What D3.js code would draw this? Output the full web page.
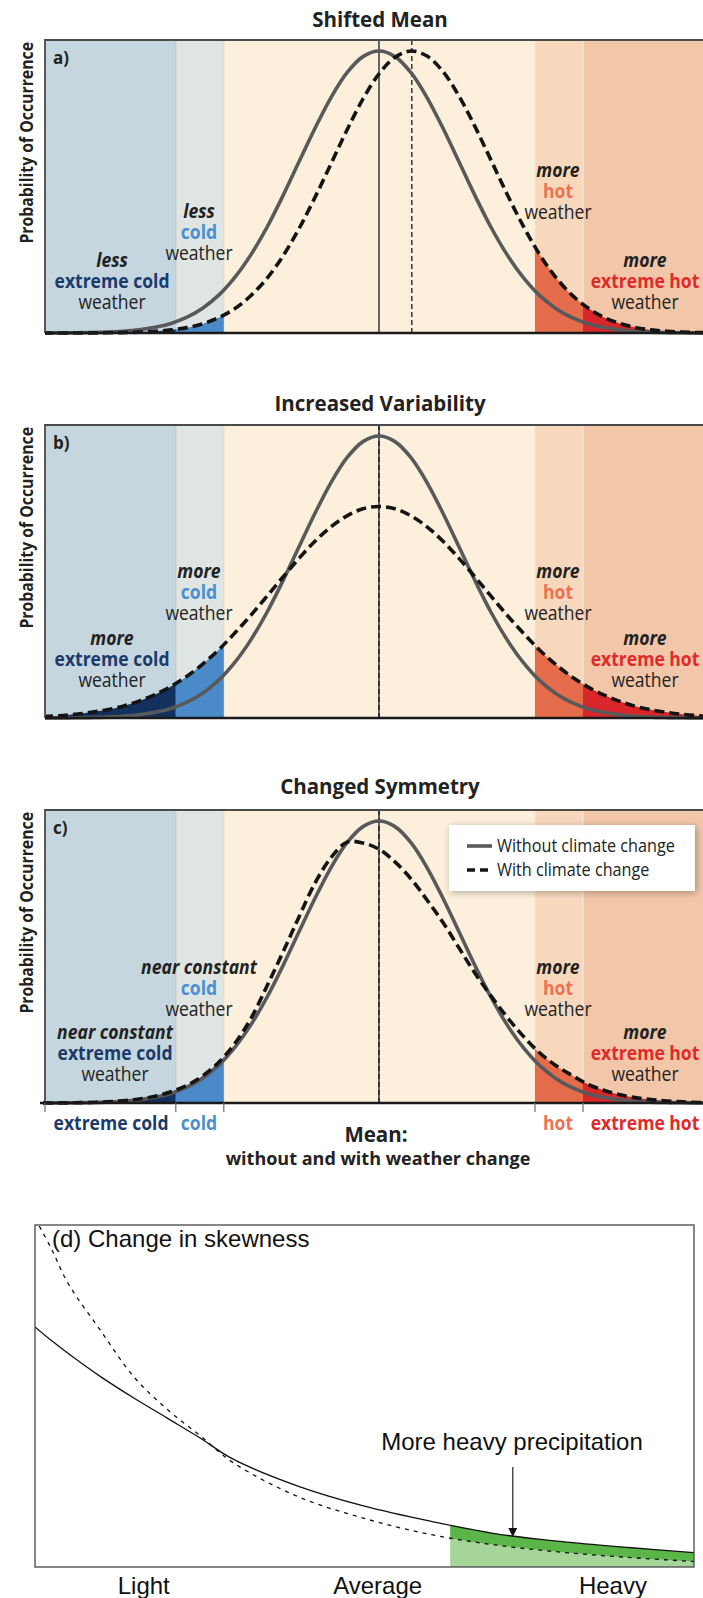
<!DOCTYPE html>
<html>
<head>
<meta charset="utf-8">
<title>Changes in the distribution of weather</title>
<script src="https://cdn.jsdelivr.net/npm/d3@7"></script>
<style>
  html, body { margin: 0; padding: 0; background: #fff; }
  svg { display: block; }
</style>
</head>
<body>
<svg id="fig" width="703" height="1598"></svg>
<script>
// ---------- temperature panels (a–c): distance from the present mean, in standard deviations ----------
const stdDev = [-4.2,-4.0,-3.8,-3.6,-3.4,-3.2,-3.0,-2.8,-2.6,-2.4,-2.2,-2.0,-1.8,-1.6,-1.4,-1.2,-1.0,-0.8,-0.6,-0.4,-0.2,
                0,0.2,0.4,0.6,0.8,1.0,1.2,1.4,1.6,1.8,2.0,2.2,2.4,2.6,2.8,3.0,3.2,3.4,3.6,3.8,4.0,4.2];

// probability of occurrence without climate change (same in every panel)
const withoutChange = [0.0001,0.0003,0.0007,0.0015,0.003,0.006,0.011,0.020,0.034,0.056,0.089,0.135,0.198,0.278,0.375,0.487,0.607,0.726,0.835,0.923,0.980,
                       1.000,0.980,0.923,0.835,0.726,0.607,0.487,0.375,0.278,0.198,0.135,0.089,0.056,0.034,0.020,0.011,0.006,0.003,0.0015,0.0007,0.0003,0.0001];

// probability of occurrence with climate change
const shiftedMean = [0.0000,0.0001,0.0001,0.0003,0.0007,0.0015,0.003,0.006,0.011,0.019,0.033,0.055,0.087,0.133,0.194,0.273,0.370,0.481,0.600,0.720,0.830,
                     0.919,0.978,1.000,0.982,0.927,0.840,0.732,0.613,0.493,0.381,0.282,0.201,0.138,0.091,0.057,0.035,0.020,0.011,0.006,0.003,0.0016,0.0008];
const increasedVariability = [0.005,0.008,0.013,0.020,0.029,0.042,0.060,0.083,0.112,0.148,0.192,0.243,0.302,0.365,0.432,0.500,0.566,0.627,0.678,0.717,0.742,
                              0.750,0.742,0.717,0.678,0.627,0.566,0.500,0.432,0.365,0.302,0.243,0.192,0.148,0.112,0.083,0.060,0.042,0.029,0.020,0.013,0.008,0.005];
const changedSymmetry = [0.0001,0.0004,0.0009,0.002,0.004,0.008,0.014,0.024,0.040,0.063,0.097,0.145,0.212,0.300,0.415,0.535,0.660,0.780,0.870,0.925,0.922,
                         0.900,0.855,0.795,0.720,0.640,0.550,0.460,0.380,0.305,0.238,0.180,0.135,0.100,0.068,0.046,0.030,0.019,0.012,0.007,0.004,0.002,0.001];

const panelLetters = ["a)", "b)", "c)"];
const panelTitles = ["Shifted Mean", "Increased Variability", "Changed Symmetry"];
const withChangeSeries = [shiftedMean, increasedVariability, changedSymmetry];
const meanWithout = [0, 0, 0];
const meanWith = [0.41, 0, 0];

const bandNames = ["extreme cold", "cold", "average", "hot", "extreme hot"];
const bandEdges = [-4.175, -2.54, -1.94, 1.95, 2.55, 4.05];
const qualifiers = [
  ["less", "less", "more", "more"],
  ["more", "more", "more", "more"],
  ["near constant", "near constant", "more", "more"]
];
const legendLabels = ["Without climate change", "With climate change"];
const axisTitle = ["Mean:", "without and with weather change"];
const yTitle = "Probability of Occurrence";

// ---------- precipitation panel (d) ----------
const precipIntensity = [0, 2.5, 5, 10, 15, 20, 25, 30, 40, 50, 60, 70, 80, 90, 100];
const precipPresent = [0.702, 0.662, 0.625, 0.556, 0.494, 0.436, 0.378, 0.316, 0.236, 0.178, 0.134, 0.097, 0.074, 0.057, 0.042];
const precipFuture  = [1.02, 0.93, 0.83, 0.69, 0.556, 0.462, 0.385, 0.306, 0.205, 0.142, 0.095, 0.064, 0.043, 0.028, 0.016];
const heavyThreshold = 63;
const heavyArrowAt = 72.5;
const precipTickLabels = ["Light", "Average", "Heavy"];
const precipTickValues = [16.5, 52, 87.7];
const skewTitle = "(d) Change in skewness";
const heavyNote = "More heavy precipitation";

// ---------- styling ----------
const bandBg = ["#c5d6de", "#dfe5e3", "#fcefdb", "#f8d8bd", "#f1c6a9"];
const bandInk = ["#13305e", "#4a8ac8", null, "#e46c4a", "#d9262a"];
const bandText = ["#1c3a6b", "#4a90d0", null, "#ec7250", "#e02a2a"];
const bandEdgeLine = [null, "#c6c9c4", "#e6d8c4", "#f6e6d6", "#fae8dc"];
const curveGrey = "#58595b";
const ink = "#222";
const sans = "'Open Sans', 'Noto Sans', sans-serif";
const helv = "'Liberation Sans', Arial, sans-serif";

// ---------- layout ----------
const W = 703;
const frameLeft = 45;
const panelTop = [40, 425, 810];
const panelBase = [333, 718, 1103];
const titleBaseline = [27, 411, 794];
const peakPx = 282;
const labelX = [[112, 199, 558, 645], [112, 199, 558, 645], [115, 199, 558, 645]];
const outerRise = [66, 73, 64];
const innerRise = [[115, 156], [140, 140], [129, 129]];
const lineGap = 21;
const narrow = 0.9;

const svg = d3.select("#fig");
const defs = svg.append("defs");

// text drawn with a horizontally squeezed face, anchored at (tx, ty)
function narrowText(parent, tx, ty, k, extra = "") {
  return parent.append("text")
    .attr("transform", `translate(${tx},${ty}) ${extra} scale(${k},1)`)
    .attr("x", 0).attr("y", 0);
}

const x = d3.scaleLinear().domain([bandEdges[0], bandEdges[5]]).range([frameLeft, W]);

panelTitles.forEach((title, i) => {
  const top = panelTop[i], base = panelBase[i];
  const y = d3.scaleLinear().domain([0, 1]).range([base, base - peakPx]);
  const g = svg.append("g").attr("class", "panel-" + i);

  const clipId = "plot-clip-" + i;
  defs.append("clipPath").attr("id", clipId).append("rect")
    .attr("x", i === 2 ? 40 : frameLeft).attr("y", top)
    .attr("width", W - frameLeft + 10).attr("height", base - top + 4);

  // background bands
  const bands = d3.range(5);
  g.selectAll("rect.band").data(bands).join("rect").attr("class", "band")
    .attr("x", k => x(bandEdges[k])).attr("y", top)
    .attr("width", k => x(bandEdges[k + 1]) - x(bandEdges[k]))
    .attr("height", base - top)
    .attr("fill", k => bandBg[k]);

  g.selectAll("line.edge").data([1, 2, 3, 4]).join("line").attr("class", "edge")
    .attr("x1", k => x(bandEdges[k])).attr("x2", k => x(bandEdges[k]))
    .attr("y1", top).attr("y2", base)
    .attr("stroke", k => bandEdgeLine[k]).attr("stroke-width", 1.2);

  const withPts = stdDev.map((s, j) => [s, withChangeSeries[i][j]]);
  const withoutPts = stdDev.map((s, j) => [s, withoutChange[j]]);

  // shaded tails under the climate-change curve
  const area = d3.area().x(d => x(d[0])).y0(base).y1(d => y(d[1])).curve(d3.curveCatmullRom.alpha(0.5));
  [0, 1, 3, 4].forEach(k => {
    const id = `band-clip-${i}-${k}`;
    defs.append("clipPath").attr("id", id).append("rect")
      .attr("x", x(bandEdges[k])).attr("y", top)
      .attr("width", x(bandEdges[k + 1]) - x(bandEdges[k])).attr("height", base - top);
    g.append("path").datum(withPts).attr("d", area)
      .attr("fill", bandInk[k]).attr("clip-path", `url(#${id})`);
  });

  // mean markers
  g.append("line")
    .attr("x1", x(meanWithout[i])).attr("x2", x(meanWithout[i]))
    .attr("y1", top).attr("y2", base)
    .attr("stroke", "#555").attr("stroke-width", 1.8);
  g.append("line")
    .attr("x1", x(meanWith[i])).attr("x2", x(meanWith[i]))
    .attr("y1", top).attr("y2", base)
    .attr("stroke", "#1a1a1a").attr("stroke-width", 1.3).attr("stroke-dasharray", "5,3");

  // distributions
  const line = d3.line().x(d => x(d[0])).y(d => y(d[1])).curve(d3.curveCatmullRom.alpha(0.5));
  const curves = g.append("g").attr("clip-path", `url(#${clipId})`);
  curves.append("path").datum(withoutPts).attr("d", line)
    .attr("fill", "none").attr("stroke", curveGrey).attr("stroke-width", 3.6);
  curves.append("path").datum(withPts).attr("d", line)
    .attr("fill", "none").attr("stroke", "#141414").attr("stroke-width", 3.6)
    .attr("stroke-dasharray", "10,5");

  // frame and axis line
  g.append("path")
    .attr("d", `M${frameLeft},${base}V${top}H${W}`)
    .attr("fill", "none").attr("stroke", "#4a4a4a").attr("stroke-width", 1.8);
  g.append("line")
    .attr("x1", i === 2 ? 40 : frameLeft).attr("x2", W).attr("y1", base).attr("y2", base)
    .attr("stroke", "#1a1a1a").attr("stroke-width", 2.6);

  // titles
  g.append("text").text(title)
    .attr("x", 380).attr("y", titleBaseline[i]).attr("text-anchor", "middle")
    .attr("font-family", sans).attr("font-weight", 700).attr("font-size", 20.5).attr("fill", ink);
  g.append("text").text(panelLetters[i])
    .attr("x", 53).attr("y", top + 24)
    .attr("font-family", sans).attr("font-weight", 700).attr("font-size", 17).attr("fill", ink);
  narrowText(g, 33, top + 2, 0.93, "rotate(-90)")
    .text(yTitle).attr("text-anchor", "end")
    .attr("font-family", sans).attr("font-weight", 700).attr("font-size", 17).attr("fill", ink);

  // band annotations: one three-line label per band
  [0, 1, 3, 4].forEach((k, j) => {
    const rise = (k === 0 || k === 4) ? outerRise[i] : innerRise[i][k === 1 ? 0 : 1];
    const label = narrowText(g, labelX[i][j], base - rise, narrow)
      .attr("text-anchor", "middle")
      .attr("font-family", sans).attr("font-size", 19.5);
    const lines = [
      { t: qualifiers[i][j], w: 700, s: "italic", c: ink },
      { t: bandNames[k], w: 700, s: "normal", c: bandText[k] },
      { t: "weather", w: 400, s: "normal", c: ink }
    ];
    lines.forEach((ln, n) => {
      label.append("tspan").text(ln.t)
        .attr("x", 0).attr("y", n * lineGap)
        .attr("font-weight", ln.w).attr("font-style", ln.s).attr("fill", ln.c);
    });
  });

  if (i === 2) {
    // band ticks and names along the bottom axis
    g.selectAll("line.tick").data([0, 1, 2, 3, 4]).join("line").attr("class", "tick")
      .attr("x1", k => x(bandEdges[k])).attr("x2", k => x(bandEdges[k]))
      .attr("y1", base).attr("y2", base + 9)
      .attr("stroke", "#777").attr("stroke-width", 1.3);
    const axisNames = [[0, 111], [1, 199], [3, 558], [4, 645]];
    axisNames.forEach(([k, cx]) => {
      narrowText(g, cx, base + 27, narrow).text(bandNames[k])
        .attr("text-anchor", "middle")
        .attr("font-family", sans).attr("font-weight", 700).attr("font-size", 19.5)
        .attr("fill", bandText[k]);
    });
    g.append("text").text(axisTitle[0])
      .attr("x", 376).attr("y", base + 39).attr("text-anchor", "middle")
      .attr("font-family", sans).attr("font-weight", 700).attr("font-size", 20.5).attr("fill", ink);
    g.append("text").text(axisTitle[1])
      .attr("x", 378).attr("y", base + 62).attr("text-anchor", "middle")
      .attr("font-family", sans).attr("font-weight", 700).attr("font-size", 18).attr("fill", ink);

    // legend
    const shadow = defs.append("filter").attr("id", "legend-shadow")
      .attr("x", "-20%").attr("y", "-30%").attr("width", "140%").attr("height", "160%");
    shadow.append("feDropShadow").attr("dx", 1.5).attr("dy", 1.5)
      .attr("stdDeviation", 3.5).attr("flood-color", "#000").attr("flood-opacity", 0.3);
    const lg = g.append("g");
    lg.append("rect").attr("x", 449).attr("y", 825).attr("width", 246).attr("height", 66)
      .attr("fill", "#fff").attr("filter", "url(#legend-shadow)");
    legendLabels.forEach((lab, n) => {
      const ly = 846 + n * 24;
      lg.append("line").attr("x1", 467).attr("x2", 492).attr("y1", ly).attr("y2", ly)
        .attr("stroke", n === 0 ? curveGrey : "#141414").attr("stroke-width", 3.6)
        .attr("stroke-dasharray", n === 0 ? null : "8,5");
      narrowText(lg, 497, ly + 6, narrow).text(lab)
        .attr("font-family", sans).attr("font-size", 18).attr("fill", ink);
    });
  }
});

// ---------- panel d ----------
const dLeft = 35, dRight = 694, dTop = 1225, dBottom = 1567;
const xD = d3.scaleLinear().domain([0, 100]).range([dLeft, dRight]);
const yD = d3.scaleLinear().domain([0, 1]).range([dBottom, dTop]);
const gd = svg.append("g").attr("class", "panel-d");

defs.append("clipPath").attr("id", "clip-d").append("rect")
  .attr("x", dLeft).attr("y", dTop).attr("width", dRight - dLeft).attr("height", dBottom - dTop);
defs.append("clipPath").attr("id", "clip-heavy").append("rect")
  .attr("x", xD(heavyThreshold)).attr("y", dTop)
  .attr("width", dRight - xD(heavyThreshold)).attr("height", dBottom - dTop);

const presentPts = precipIntensity.map((v, j) => [v, precipPresent[j]]);
const futurePts = precipIntensity.map((v, j) => [v, precipFuture[j]]);
const pairPts = precipIntensity.map((v, j) => [v, precipPresent[j], precipFuture[j]]);
const smooth = d3.curveCatmullRom.alpha(0.5);

const heavy = gd.append("g").attr("clip-path", "url(#clip-heavy)");
heavy.append("path").datum(futurePts)
  .attr("d", d3.area().x(d => xD(d[0])).y0(yD(0)).y1(d => yD(d[1])).curve(smooth))
  .attr("fill", "#a5d598");
heavy.append("path").datum(pairPts)
  .attr("d", d3.area().x(d => xD(d[0])).y0(d => yD(d[2])).y1(d => yD(d[1])).curve(smooth))
  .attr("fill", "#5bb548");

const dCurves = gd.append("g").attr("clip-path", "url(#clip-d)");
const lineD = d3.line().x(d => xD(d[0])).y(d => yD(d[1])).curve(smooth);
dCurves.append("path").datum(presentPts).attr("d", lineD)
  .attr("fill", "none").attr("stroke", "#111").attr("stroke-width", 1.3);
dCurves.append("path").datum(futurePts).attr("d", lineD)
  .attr("fill", "none").attr("stroke", "#111").attr("stroke-width", 1.3)
  .attr("stroke-dasharray", "4,5");

gd.append("rect").attr("x", dLeft).attr("y", dTop)
  .attr("width", dRight - dLeft).attr("height", dBottom - dTop)
  .attr("fill", "none").attr("stroke", "#555").attr("stroke-width", 1.4);

gd.append("text").text(skewTitle)
  .attr("x", 52).attr("y", 1247)
  .attr("font-family", helv).attr("font-size", 24).attr("fill", "#111");

// annotation arrow pointing at the heavy tail
const arrowX = xD(heavyArrowAt);
const arrowTip = yD(0.088);
gd.append("line").attr("x1", arrowX).attr("x2", arrowX)
  .attr("y1", 1467).attr("y2", arrowTip - 7)
  .attr("stroke", "#333").attr("stroke-width", 1.3);
gd.append("path")
  .attr("d", `M${arrowX - 4.5},${arrowTip - 9}L${arrowX + 4.5},${arrowTip - 9}L${arrowX},${arrowTip}Z`)
  .attr("fill", "#111");
gd.append("text").text(heavyNote)
  .attr("x", 512).attr("y", 1450).attr("text-anchor", "middle")
  .attr("font-family", helv).attr("font-size", 24).attr("fill", "#111");

gd.selectAll("text.ptick").data(precipTickLabels).join("text").attr("class", "ptick")
  .text(d => d)
  .attr("x", (d, j) => xD(precipTickValues[j])).attr("y", 1594)
  .attr("text-anchor", "middle")
  .attr("font-family", helv).attr("font-size", 24).attr("fill", "#111");
</script>
</body>
</html>
